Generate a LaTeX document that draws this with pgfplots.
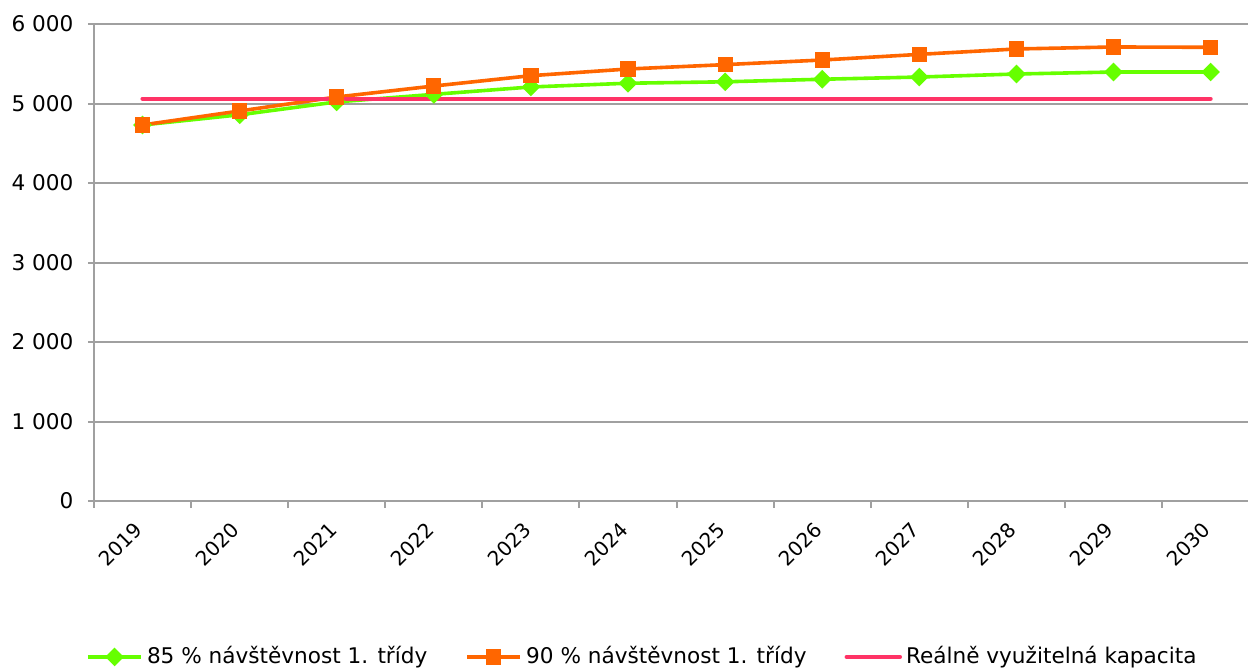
\documentclass[border=0pt]{standalone}
\usepackage{fontspec}
\setmainfont{DejaVu Sans}
\usepackage{pgfplots}
\pgfplotsset{compat=1.18}
\definecolor{cgreen}{HTML}{66FF00}
\definecolor{corange}{HTML}{FF6600}
\definecolor{cred}{HTML}{FF3366}
\definecolor{cgrid}{HTML}{A0A0A0}
\begin{document}
\fontsize{10.8bp}{13bp}\selectfont
\begin{tikzpicture}
\useasboundingbox (-47bp,-84.5bp) rectangle (577bp,250.5bp);
\begin{axis}[
  scale only axis, width=577bp, height=238.5bp,
  xmin=-0.5, xmax=11.385, ymin=0, ymax=6000,
  axis lines=left, axis line style={-, draw=cgrid, line width=1bp},
  tick align=outside,
  xtick={0,...,11},
  xticklabels={2019,2020,2021,2022,2023,2024,2025,2026,2027,2028,2029,2030},
  major x tick style={draw=none},
  minor xtick={-0.5,0.5,1.5,2.5,3.5,4.5,5.5,6.5,7.5,8.5,9.5,10.5},
  minor tick length=3.5bp,
  minor x tick style={draw=cgrid, line width=1bp},
  x tick label style={rotate=45, anchor=east, inner sep=1bp, xshift=-7bp, yshift=-5.5bp, font=\fontsize{10bp}{12bp}\selectfont},
  ytick={0,1000,...,6000},
  ymajorgrids, major grid style={draw=cgrid, line width=1bp},
  major tick length=3bp,
  major y tick style={draw=cgrid, line width=1bp},
  y tick label style={font=\fontsize{10.8bp}{13bp}\selectfont, xshift=-3.5bp},
  yticklabel style={/pgf/number format/.cd, 1000 sep={\ }, assume math mode=true},
  legend style={at={(0.476,-0.327)}, anchor=center, draw=none, legend columns=3,
    font=\fontsize{10.8bp}{13bp}\selectfont,
    /tikz/every even column/.append style={column sep=17bp}},
  legend cell align=left,
  legend image code/.code={\draw[mark repeat=2,mark phase=2] plot coordinates {(0cm,0cm)(0.47cm,0cm)(0.94cm,0cm)};},
]
\addplot[cgreen, line width=1.8bp, mark=square*, mark size=2.9bp, mark options={fill=cgreen, rotate=45, line width=0.8bp}]
  coordinates {(0,4730)(1,4858)(2,5020)(3,5115)(4,5208)(5,5255)(6,5273)(7,5305)(8,5333)(9,5371)(10,5396)(11,5396)};
\addlegendentry{85 \% návštěvnost 1. třídy}
\addplot[corange, line width=1.8bp, mark=square*, mark size=3.3bp, mark options={fill=corange, line width=1bp}]
  coordinates {(0,4730)(1,4906)(2,5082)(3,5220)(4,5350)(5,5434)(6,5489)(7,5547)(8,5618)(9,5686)(10,5711)(11,5707)};
\addlegendentry{90 \% návštěvnost 1. třídy}
\addplot[cred, line width=2.1bp, line cap=round, no marks]
  coordinates {(0,5060)(11,5060)};
\addlegendentry{Reálně využitelná kapacita}
\end{axis}
\end{tikzpicture}
\end{document}
